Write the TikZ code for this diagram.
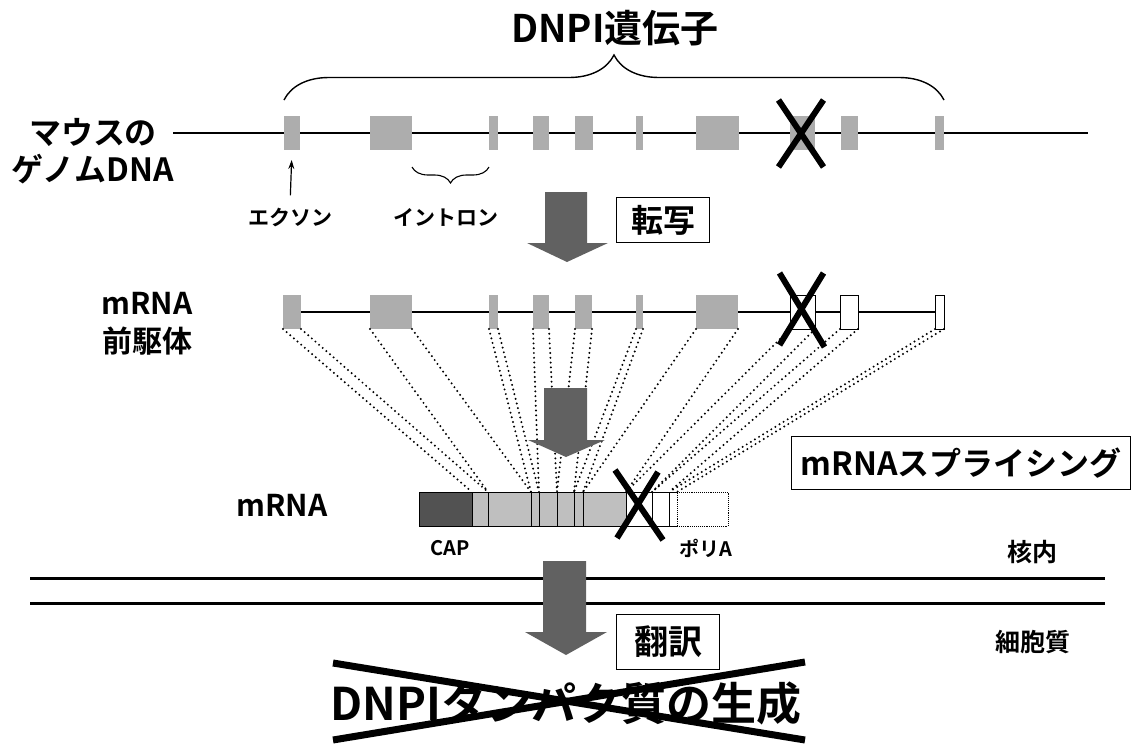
\documentclass[tikz,border=0pt]{standalone}
\usepackage{fontspec}
\setmainfont{Noto Sans CJK JP}[UprightFont=* Bold]
\usetikzlibrary{positioning,arrows.meta,calc,decorations.pathreplacing}
\newcommand\ptsize[1]{\fontsize{#1}{#1}\selectfont}
\tikzset{
  dna/.style={line width=2.2pt},
  exon/.style={rectangle,fill=black!32,minimum height=34,inner sep=0pt,
               outer sep=0pt,anchor=west},
  lostexon/.style={exon,draw,fill=white,line width=1pt},
  seg/.style={rectangle,draw,line width=0.9pt,fill=black!25,minimum height=34,
              inner sep=0pt,outer sep=0pt,anchor=west},
  capseg/.style={seg,fill=black!68},
  blankseg/.style={seg,fill=white},
  polyseg/.style={seg,fill=white,densely dotted},
  splice/.style={line width=2.2pt,line cap=round,dash pattern=on 0pt off 4.8pt},
  cross/.style={line width=6pt},
  bigarrow/.style={fill=black!62},
  tag/.style={draw,line width=1pt,inner sep=0pt},
  membrane/.style={line width=3pt},
  gbrace/.style={decorate,decoration={brace,amplitude=45pt},line width=1.4pt},
  ibrace/.style={decorate,decoration={brace,amplitude=16pt,mirror},line width=1.1pt},
  pointer/.style={-{Stealth[length=9pt,width=6pt]},line width=1.2pt,
                  shorten <=10pt,shorten >=10pt},
  small/.style={font=\ptsize{21},inner sep=2pt},
}

\begin{document}
\begin{tikzpicture}[x=1pt,y=-1pt]
\useasboundingbox (0,0) rectangle (1133,745);

% genomic DNA
\draw[dna] (173,133) -- (1088,133);
\foreach \a/\b [count=\i] in {284/300,370/412,489/498,533/549,575/593,636/643,
                              696/739,790/815,841/858,935/944}
  \node[exon,minimum width=\b-\a] (g\i) at (\a,133) {};
\node[font=\ptsize{38}] (title) at (615,28) {DNPI遺伝子};
\draw[gbrace] ($(g1.north west)+(0,-16)$) -- ($(g10.north east)+(0,-16)$);
\draw[ibrace] ($(g2.south east)+(0,17)$) -- ($(g3.south west)+(0,17)$);
\node[font=\ptsize{32},align=center,text depth=0pt] (mouse) at (93,150)
  {マウスの\\[5pt]ゲノムDNA};
\node[small] (exlbl) at (290,217) {エクソン};
\node[small] (inlbl) at (446,217) {イントロン};
\draw[pointer] (exlbl.north) -- (g1.south);
\draw[cross] ($(g8)+(-24,-33)$) -- ($(g8)+(21,34)$);
\draw[cross] ($(g8)+(21,-33)$) -- ($(g8)+(-24,34)$);

% transcription
\fill[bigarrow] (545,192) -- (587,192) -- (587,243) -- (608,243) -- (567,262)
  -- (527,243) -- (545,243) -- cycle;
\node[tag,minimum width=93,minimum height=45,font=\ptsize{32}] (tx) at (663,220) {転写};

% pre-mRNA
\draw[dna] (283,312) -- (940,312);
\foreach \a/\b [count=\i] in {283/301,370/412,489/498,533/549,575/592,636/643,696/738}
  \node[exon,minimum width=\b-\a] (p\i) at (\a,312) {};
\foreach \a/\b [count=\i from 8] in {790/815,840/858,935/944}
  \node[lostexon,minimum width=\b-\a] (p\i) at (\a,312) {};
\node[font=\ptsize{30},align=center] (pre) at (147,324) {mRNA\\[8pt]前駆体};

% mature mRNA
\node[capseg,minimum width=53] (cap) at (419,509) {};
\foreach \a/\b [count=\i] in {472/488,488/531,531/539,539/557,557/574,574/583,583/626}
  \node[seg,minimum width=\b-\a] (m\i) at (\a,509) {};
\foreach \a/\b [count=\i from 8] in {626/652,652/669,669/677}
  \node[blankseg,minimum width=\b-\a] (m\i) at (\a,509) {};
\node[polyseg,minimum width=51] (poly) at (677,509) {};
\node[font=\ptsize{30}] (mrna) at (282,505) {mRNA};
\node[font=\ptsize{20}] (caplbl) at (450,548) {CAP};
\node[font=\ptsize{20}] (polylbl) at (706,548) {ポリA};

% splicing
\foreach \i in {1,...,10} {
  \draw[splice] (p\i.south west) -- (m\i.north west);
  \draw[splice] (p\i.south east) -- (m\i.north east);
}
\fill[bigarrow] (544,388) -- (587,388) -- (587,440) -- (605,440) -- (566,457)
  -- (528,440) -- (544,440) -- cycle;
\node[tag,minimum width=339,minimum height=53,font=\ptsize{32}] (splbox) at (961,463)
  {mRNAスプライシング};
\draw[cross] ($(p8)+(-23,-39)$) -- ($(p8)+(22,35)$);
\draw[cross] ($(p8)+(21,-39)$) -- ($(p8)+(-23,33)$);
\draw[cross] ($(m8)+(-24,-39)$) -- ($(m8)+(24,31)$);
\draw[cross] ($(m8)+(19,-37)$) -- ($(m8)+(-22,29)$);

% nuclear membrane
\draw[membrane] (30,578) -- (1105,578);
\draw[membrane] (30,603) -- (1105,603);
\node[font=\ptsize{25}] (nuc) at (1032,552) {核内};
\node[font=\ptsize{25}] (cyto) at (1033,642) {細胞質};

% translation
\fill[bigarrow] (543,561) -- (586,561) -- (586,632) -- (607,632) -- (566,655)
  -- (525,632) -- (543,632) -- cycle;
\node[tag,minimum width=103,minimum height=55,font=\ptsize{34}] (tl) at (668,642) {翻訳};
\node[font=\ptsize{45}] (prot) at (566,703) {DNPIタンパク質の生成};
\draw[cross,line width=7pt] ($(prot)+(-233,-40)$) -- ($(prot)+(239,37)$);
\draw[cross,line width=7pt] ($(prot)+(-233,37)$) -- ($(prot)+(239,-41)$);
\end{tikzpicture}
\end{document}
